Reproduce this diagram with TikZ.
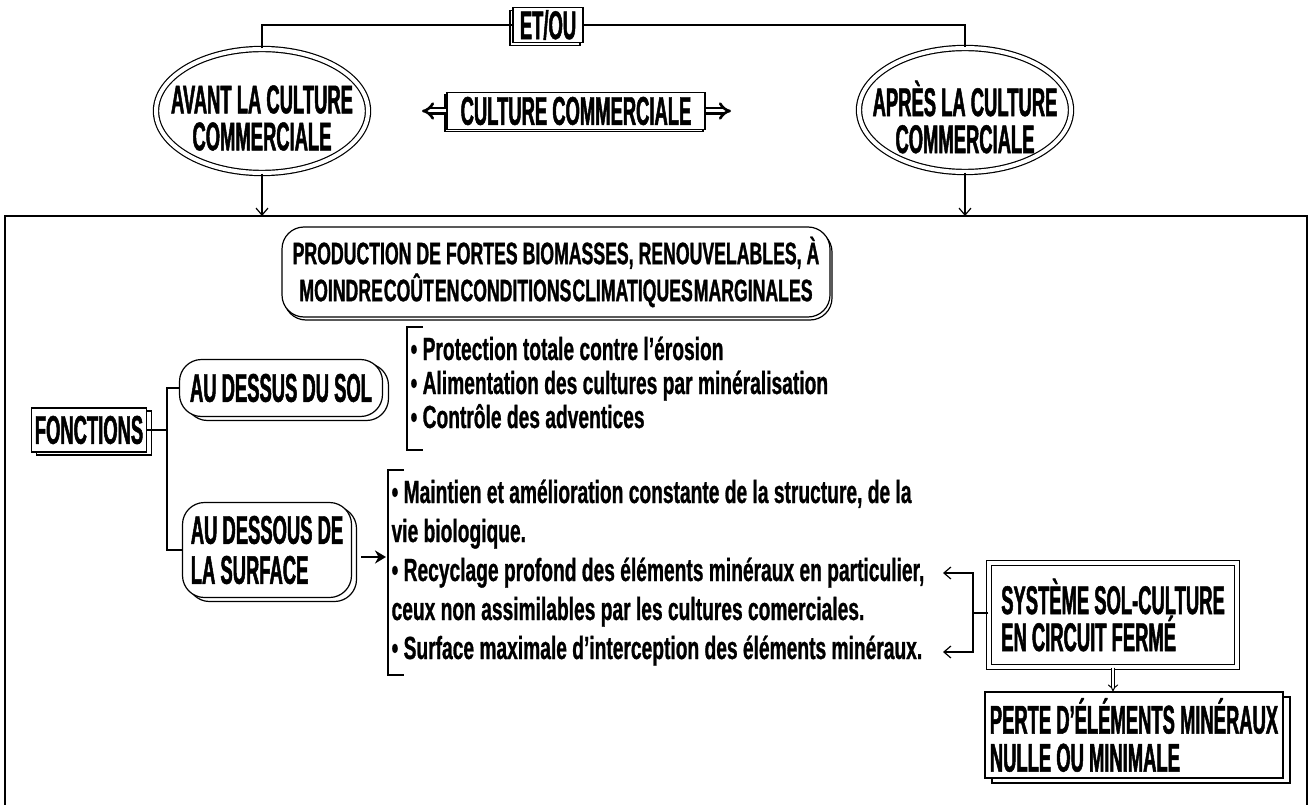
\documentclass[tikz,border=0pt]{standalone}
\usepackage{fontspec}
\setmainfont{Liberation Sans}
\newfontfamily\capf{Liberation Sans}[FakeStretch=0.46, FakeBold=1.2]
\newfontfamily\prodf{Liberation Sans}[FakeStretch=0.57, FakeBold=1]
\newfontfamily\bulf{Liberation Sans}[FakeStretch=0.60, FakeBold=0.8]
\newcommand\wideSp{\spaceskip=5pt plus 1pt\relax}
\newcommand\narrowSp{\spaceskip=1pt plus 0.5pt\relax}
\usetikzlibrary{shapes.geometric,arrows.meta,shadows}
\begin{document}
\begin{tikzpicture}[x=1pt,y=-1pt,line width=1.2pt,
  lab/.style={font=\capf\bfseries\fontsize{40}{37}\selectfont, inner sep=0pt, align=center},
  ellab/.style={font=\capf\bfseries\fontsize{40}{37}\selectfont, inner sep=0pt, align=center},
  bul/.style={font=\bulf\bfseries\fontsize{32}{36}\selectfont, inner sep=0pt, anchor=base west},
  ell/.style={ellipse, draw, double, double distance=4pt, minimum width=212pt, minimum height=124pt, inner sep=0pt},
  sqbox/.style={draw, fill=white, inner sep=0pt},
  rbox/.style={draw, fill=white, inner sep=0pt, rounded corners=22pt},
  arr/.style={-{Straight Barb[length=7pt,width=12pt]}},
  thickarr/.style={line width=2.4pt, -{Stealth[length=11pt,width=13pt]}},
  dblarr/.style={double, double distance=3pt, line width=2.6pt, -{Implies}},
  smalldbl/.style={double, double distance=2.5pt, line width=1pt, -{Implies}},
  framestyle/.style={line width=1.8pt},
  bracket/.style={line width=1.2pt}
]
\useasboundingbox (0,0) rectangle (1311,805);

% outer frame
\coordinate (ftl) at (5,216);
\coordinate (ftr) at (1307,216);
\coordinate (fbl) at (5,805);
\coordinate (fbr) at (1307,805);
\draw[framestyle] (fbl) -- (ftl) -- (ftr) -- (fbr);

% top
\node[sqbox, lab, minimum width=70pt, minimum height=35pt,
      copy shadow={shadow xshift=-3pt, shadow yshift=-3pt}] (etou) at (548,25) {ET/OU};
\node[ell] (avant) at (262,111) {};
\node[ellab] (avantt) at ([yshift=-7pt]avant.center) {AVANT LA CULTURE\\COMMERCIALE};
\node[ell] (apres) at (965,110) {};
\node[ellab] (aprest) at ([yshift=-7pt]apres.center) {APRÈS LA CULTURE\\COMMERCIALE};
\draw (avant.north) |- (etou.west);
\draw (etou.east) -| (apres.north);

\node[sqbox, lab, minimum width=258pt, minimum height=37pt,
      copy shadow={shadow xshift=-2pt, shadow yshift=-2pt}] (cc) at (576,111) {CULTURE COMMERCIALE};
\coordinate (ccl) at (422,111);
\coordinate (ccr) at (731,111);
\draw[dblarr] (cc.west) -- (ccl);
\draw[dblarr] (cc.east) -- (ccr);

\draw[arr] (avant.south) -- (avant.south |- ftl);
\draw[arr] (apres.south) -- (apres.south |- ftl);

% production
\node[rbox, minimum width=548pt, minimum height=90pt,
      copy shadow={shadow xshift=2pt, shadow yshift=-3pt},
      font=\prodf\bfseries\fontsize{31}{37}\selectfont, align=center] (prod) at (556,272)
  {{\wideSp PRODUCTION DE FORTES BIOMASSES, RENOUVELABLES, À}\\{\narrowSp MOINDRE COÛT EN CONDITIONS CLIMATIQUES MARGINALES}};

% fonctions
\node[sqbox, lab, minimum width=115pt, minimum height=44pt,
      copy shadow={shadow xshift=5pt, shadow yshift=-3pt}] (fon) at (89,430) {FONCTIONS};
\node[rbox, lab, minimum width=203pt, minimum height=57pt,
      copy shadow={shadow xshift=6pt, shadow yshift=-4pt}] (dessus) at (281,388) {AU DESSUS DU SOL};
\node[rbox, font=\capf\bfseries\fontsize{40}{40}\selectfont, align=left, minimum width=169pt, minimum height=95pt,
      copy shadow={shadow xshift=5pt, shadow yshift=-4pt}] (dessous) at (267,550) {AU DESSOUS DE\\LA SURFACE};
\coordinate (spine) at (167,430);
\draw (fon.east) -- (spine);
\draw (dessus.west) -| (spine) |- (dessous.west);

% bracket 1
\coordinate (b1t) at (407,327);
\coordinate (b1b) at (407,450);
\draw[bracket] ([xshift=16pt]b1t) -- (b1t) -- (b1b) -- ([xshift=16pt]b1b);
\node[bul] (p1) at (410,360) {• Protection totale contre l’érosion};
\node[bul] (p2) at (410,394) {• Alimentation des cultures par minéralisation};
\node[bul] (p3) at (410,428) {• Contrôle des adventices};

% bracket 2
\coordinate (b2t) at (388,470);
\coordinate (b2b) at (388,675);
\coordinate (b2a) at (386,557);
\draw[bracket] ([xshift=16pt]b2t) -- (b2t) -- (b2b) -- ([xshift=16pt]b2b);
\draw[thickarr] ([xshift=9pt]dessous.east |- b2a) -- (b2a);
\node[bul] (q1) at (391,503) {• Maintien et amélioration constante de la structure, de la};
\node[bul] (q2) at (391,542) {vie biologique.};
\node[bul] (q3) at (391,581) {• Recyclage profond des éléments minéraux en particulier,};
\node[bul] (q4) at (391,620) {ceux non assimilables par les cultures comerciales.};
\node[bul] (q5) at (391,659) {• Surface maximale d’interception des éléments minéraux.};

% systeme
\node[draw, double, double distance=4.5pt, fill=white, inner sep=0pt, minimum width=248pt, minimum height=104pt,
      lab, align=left] (sys) at (1113,615) {SYSTÈME SOL-CULTURE\\EN CIRCUIT FERMÉ};
\coordinate (sj) at (973,613);
\coordinate (a1) at (943,573);
\coordinate (a2) at (943,652);
\draw (sys.west |- sj) -- (sj);
\draw[arr] (sj) |- (a1);
\draw[arr] (sj) |- (a2);

% perte
\node[sqbox, lab, align=left, minimum width=298pt, minimum height=86pt, font=\capf\bfseries\fontsize{40}{38}\selectfont,
      copy shadow={shadow xshift=7pt, shadow yshift=-5pt}] (perte) at (1134,735) {PERTE D’ÉLÉMENTS MINÉRAUX\\NULLE OU MINIMALE};
\draw[smalldbl] (sys.south) -- (sys.south |- perte.north);
\end{tikzpicture}
\end{document}
